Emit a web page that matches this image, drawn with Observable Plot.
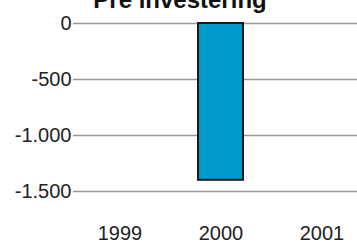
<!DOCTYPE html>
<html>
<head>
<meta charset="utf-8">
<script src="https://cdn.jsdelivr.net/npm/d3@7"></script>
<script src="https://cdn.jsdelivr.net/npm/@observablehq/plot@0.6"></script>
<style>
  html, body { margin: 0; padding: 0; background: #fff; overflow: hidden; }
  body { position: relative; width: 357px; height: 244px; }
  #chart svg { max-width: none !important; }
  #title { position: absolute; left: 0; top: -12px; width: 360px; text-align: center;
    font: bold 24px "Liberation Sans", Arial, sans-serif; line-height: 24px; color: #111; white-space: nowrap; }
</style>
</head>
<body>
<div id="title">Pre investering</div>
<div id="chart"></div>
<script>
const years = ["1999", "2000", "2001"];
const values = [null, -1400, null];
const yTicks = [0, -500, -1000, -1500];

const data = years.map((y, i) => ({year: y, value: values[i]})).filter(d => d.value != null);
const locale = d3.formatLocale({decimal: ",", thousands: ".", grouping: [3], currency: ["", ""], minus: "-"});
const fmt = locale.format(",d");

const chart = Plot.plot({
  width: 373,
  height: 244,
  marginTop: 23,
  marginBottom: 53,
  marginLeft: 73,
  marginRight: 16,
  style: {fontSize: "20px", fontFamily: "'Liberation Sans', Arial, sans-serif", color: "#222", background: "transparent", overflow: "visible", maxWidth: "none"},
  x: {domain: years, range: [69.5, 372.5], paddingInner: 0.554, paddingOuter: 0.277, label: null},
  y: {domain: [-1500, 0], label: null},
  marks: [
    Plot.gridY(yTicks, {stroke: "#999", strokeOpacity: 1, strokeWidth: 1.5}),
    Plot.barY(data, {x: "year", y: "value", fill: "#0099cc", stroke: "#1a1a1a", strokeWidth: 2}),
    Plot.axisY(yTicks, {tickSize: 0, tickPadding: 2, tickFormat: fmt, label: null}),
    Plot.axisX({tickSize: 0, tickPadding: 34, label: null})
  ]
});
document.getElementById("chart").appendChild(chart);
</script>
</body>
</html>
